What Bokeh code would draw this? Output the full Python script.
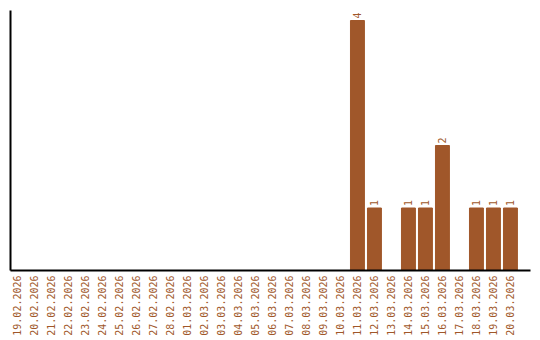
import math
from bokeh.plotting import figure
from bokeh.models import ColumnDataSource, FixedTicker, Range1d
from bokeh.core.properties import value
from bokeh.embed import file_html
from bokeh.resources import INLINE

dates = ["19.02.2026", "20.02.2026", "21.02.2026", "22.02.2026", "23.02.2026",
         "24.02.2026", "25.02.2026", "26.02.2026", "27.02.2026", "28.02.2026",
         "01.03.2026", "02.03.2026", "03.03.2026", "04.03.2026", "05.03.2026",
         "06.03.2026", "07.03.2026", "08.03.2026", "09.03.2026", "10.03.2026",
         "11.03.2026", "12.03.2026", "13.03.2026", "14.03.2026", "15.03.2026",
         "16.03.2026", "17.03.2026", "18.03.2026", "19.03.2026", "20.03.2026"]
counts = [0, 0, 0, 0, 0, 0, 0, 0, 0, 0,
          0, 0, 0, 0, 0, 0, 0, 0, 0, 0,
          4, 1, 0, 1, 1, 2, 0, 1, 1, 1]

BROWN = "#A0572A"
idx = list(range(len(dates)))
src = ColumnDataSource(dict(x=idx, top=counts))
nz = [i for i in idx if counts[i] > 0]
lab = ColumnDataSource(dict(x=nz, y=[counts[i] for i in nz], t=[str(counts[i]) for i in nz]))

p = figure(width=540, height=340, output_backend="svg", toolbar_location=None,
           x_range=Range1d(-0.41, 30.18), y_range=Range1d(0, 4.16),
           min_border_left=10, min_border_right=10, min_border_top=10, min_border_bottom=70)
p.vbar(x="x", top="top", width=0.82, bottom=0, source=src, color=BROWN)
p.text(x="x", y="y", text="t", source=lab, angle=math.pi / 2, text_align="left",
       text_baseline="middle", x_offset=0, y_offset=-2, text_color=BROWN,
       text_font=value("DejaVu Sans Mono"), text_font_size="10px")

p.xgrid.visible = False
p.ygrid.visible = False
p.outline_line_color = None

xa = p.xaxis[0]
xa.ticker = FixedTicker(ticks=idx)
xa.major_label_overrides = {i: d for i, d in enumerate(dates)}
xa.major_label_orientation = math.pi / 2
xa.major_label_text_color = BROWN
xa.major_label_text_font = "DejaVu Sans Mono"
xa.major_label_text_font_size = "10px"
xa.major_label_standoff = 5
xa.major_tick_out = 0
xa.major_tick_in = 0
xa.minor_tick_out = 0
xa.minor_tick_in = 0
xa.axis_line_width = 2
xa.axis_line_color = "black"

ya = p.yaxis[0]
ya.ticker = FixedTicker(ticks=[])
ya.major_label_text_font_size = "0px"
ya.major_tick_out = 0
ya.major_tick_in = 0
ya.minor_tick_out = 0
ya.minor_tick_in = 0
ya.axis_line_width = 2
ya.axis_line_color = "black"

open("out.html", "w").write(file_html(p, INLINE))
